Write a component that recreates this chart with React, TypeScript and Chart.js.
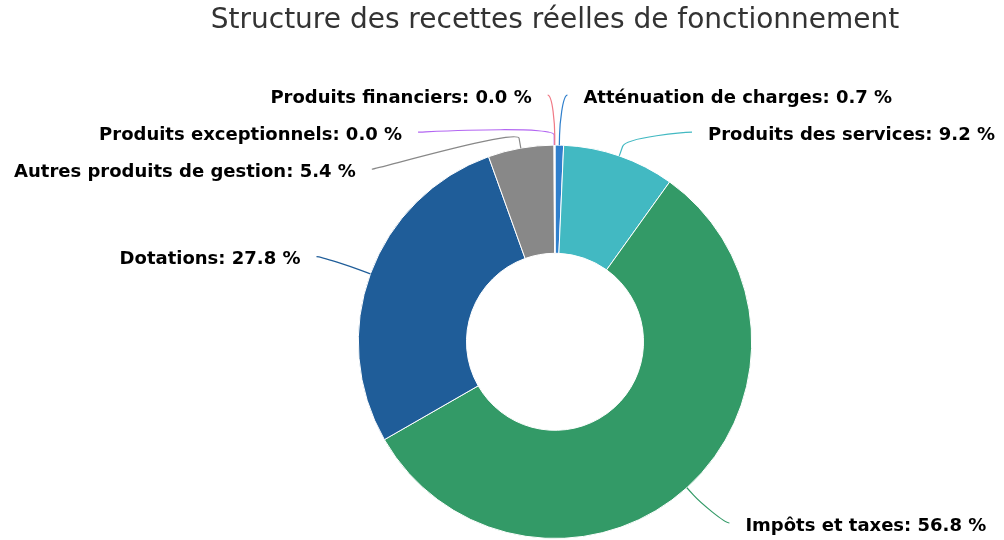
import React, { useEffect, useRef } from "react";
import { Chart, registerables } from "chart.js";

Chart.register(...registerables);

const TITLE = "Structure des recettes réelles de fonctionnement";
const categories = [
  "Atténuation de charges",
  "Produits des services",
  "Impôts et taxes",
  "Dotations",
  "Autres produits de gestion",
  "Produits exceptionnels",
  "Produits financiers",
];
const values = [0.7, 9.2, 56.8, 27.8, 5.4, 0.04, 0.04];
const colors = ["#2f7fcc", "#42b9c2", "#339a67", "#1f5d99", "#888888", "#b366f2", "#f07a86"];

const FONT = "'DejaVu Sans', sans-serif";

const labelPlugin = {
  id: "pieLabels",
  afterDatasetsDraw(chart: any) {
    const ctx = chart.ctx;
    const meta = chart.getDatasetMeta(0);
    const data = chart.data.datasets[0].data as number[];
    const total = data.reduce((a, b) => a + b, 0);
    const distance = 50;
    const spacing = 37;
    const minY = 95;
    const maxY = chart.height - 17;
    const items: any[] = [];
    meta.data.forEach((arc: any, i: number) => {
      const p = arc.getProps(["x", "y", "startAngle", "endAngle", "outerRadius"], true);
      const mid = (p.startAngle + p.endAngle) / 2;
      const r = p.outerRadius;
      const R = r + distance;
      const dx = Math.cos(mid);
      const dy = Math.sin(mid);
      items.push({
        i,
        cx: p.x,
        cy: p.y,
        r,
        R,
        dx,
        dy,
        side: dx >= 0 ? 1 : -1,
        y: p.y + R * dy,
      });
    });
    [1, -1].forEach((side) => {
      const list = items.filter((it) => it.side === side).sort((a, b) => a.y - b.y);
      let prev = -Infinity;
      list.forEach((it) => {
        it.y = Math.max(it.y, prev + spacing, minY);
        prev = it.y;
      });
      let next = Infinity;
      for (let k = list.length - 1; k >= 0; k--) {
        const it = list[k];
        it.y = Math.min(it.y, next - spacing, maxY);
        next = it.y;
      }
    });
    ctx.save();
    items.forEach((it) => {
      const ddy = it.y - it.cy;
      const hx = Math.sqrt(Math.max(0, it.R * it.R - ddy * ddy));
      const x = it.cx + it.side * (hx + 7);
      const bx = it.cx + (it.r + 10) * it.dx;
      const by = it.cy + (it.r + 10) * it.dy;
      const ex = it.cx + it.r * it.dx;
      const ey = it.cy + it.r * it.dy;
      const c2x = it.cx + (it.r + 20) * it.dx;
      const c2y = it.cy + (it.r + 20) * it.dy;
      ctx.beginPath();
      ctx.strokeStyle = colors[it.i];
      ctx.lineWidth = 1.2;
      ctx.moveTo(x, it.y);
      ctx.bezierCurveTo(x - it.side * 5, it.y, c2x, c2y, bx, by);
      ctx.lineTo(ex, ey);
      ctx.stroke();
      const pct = ((data[it.i] / total) * 100).toFixed(1);
      const text = `${categories[it.i]}: ${pct} %`;
      ctx.font = `bold 18px ${FONT}`;
      ctx.fillStyle = "#000000";
      ctx.textBaseline = "middle";
      ctx.textAlign = it.side > 0 ? "left" : "right";
      ctx.fillText(text, x + it.side * 16, it.y + 3);
    });
    ctx.restore();
  },
};

export default function App() {
  const ref = useRef<HTMLCanvasElement | null>(null);
  useEffect(() => {
    document.body.style.margin = "0";
    if (!ref.current) return;
    const chart = new Chart(ref.current, {
      type: "doughnut",
      data: {
        labels: categories,
        datasets: [
          {
            data: values,
            backgroundColor: colors,
            borderColor: "#ffffff",
            borderWidth: 1,
          },
        ],
      },
      options: {
        responsive: false,
        animation: false,
        cutout: "45%",
        layout: { padding: { left: 106, right: 0, top: 0, bottom: 1 } },
        plugins: {
          legend: { display: false },
          tooltip: { enabled: false },
          title: {
            display: true,
            text: TITLE,
            color: "#333333",
            font: { family: FONT, size: 28, weight: "normal" },
            padding: { top: 4, bottom: 107 },
          },
        },
      },
      plugins: [labelPlugin],
    });
    return () => chart.destroy();
  }, []);
  return (
    <div style={{ width: 1004, height: 540 }}>
      <canvas ref={ref} width={1004} height={540} style={{ display: "block" }} />
    </div>
  );
}
